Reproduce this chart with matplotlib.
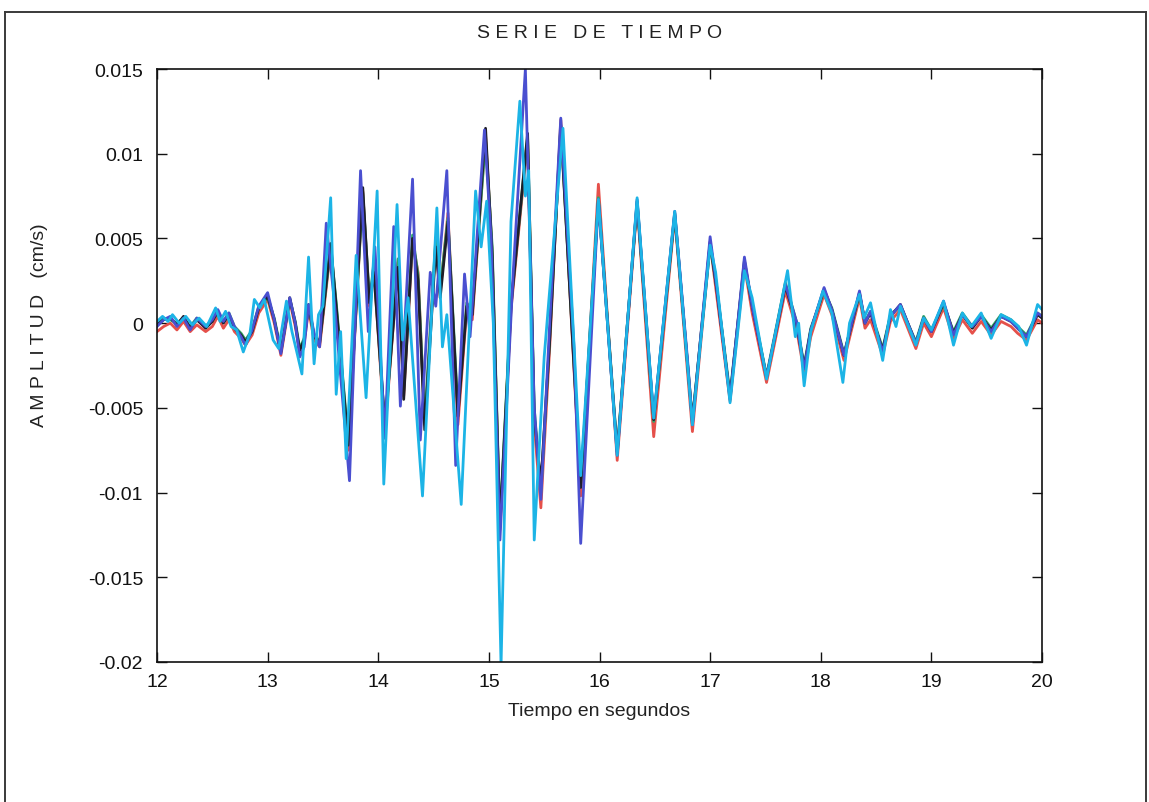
import matplotlib

matplotlib.use('Agg')
import matplotlib.pyplot as plt
from matplotlib.lines import Line2D

plt.rcParams['font.family'] = ['Liberation Sans', 'DejaVu Sans']
plt.rcParams['axes.unicode_minus'] = False

# black, red and green traces share the same sample times
t_main = [12.00, 12.06, 12.12, 12.18, 12.24, 12.30, 12.36, 12.44, 12.50, 12.55,
          12.60, 12.65, 12.70, 12.76, 12.80, 12.86, 12.92, 13.00, 13.06, 13.12,
          13.20, 13.25, 13.29, 13.33, 13.37, 13.42, 13.47, 13.57, 13.62, 13.73,
          13.86, 13.92, 13.96, 14.06, 14.18, 14.23, 14.31, 14.36, 14.42, 14.52,
          14.56, 14.63, 14.72, 14.80, 14.85, 14.97, 15.03, 15.10, 15.20, 15.35,
          15.41, 15.47, 15.55, 15.65, 15.83, 15.99, 16.16, 16.34, 16.49, 16.68,
          16.84, 17.00, 17.06, 17.18, 17.31, 17.38, 17.51, 17.68, 17.78, 17.85,
          17.91, 18.03, 18.10, 18.21, 18.35, 18.40, 18.45, 18.56, 18.63, 18.72,
          18.86, 18.93, 19.00, 19.11, 19.20, 19.28, 19.37, 19.45, 19.54, 19.63,
          19.72, 19.78, 19.86, 19.96, 20.00]

amp_black = [-0.0001, 0.0002, 0.0003, -0.0001, 0.0004, -0.0003, 0.0002, -0.0003, 0.0001, 0.0007,
             0.0000, 0.0005, -0.0003, -0.0007, -0.0011, -0.0005, 0.0009, 0.0016, 0.0002, -0.0017,
             0.0015, 0.0000, -0.0016, -0.0010, 0.0011, -0.0008, -0.0012, 0.0047, 0.0010, -0.0072,
             0.0080, 0.0012, 0.0030, -0.0060, 0.0033, -0.0045, 0.0050, 0.0025, -0.0063, 0.0045,
             0.0015, 0.0060, -0.0055, 0.0010, 0.0005, 0.0115, 0.0040, -0.0120, 0.0010, 0.0112,
             -0.0055, -0.0095, -0.0010, 0.0116, -0.0097, 0.0072, -0.0076, 0.0072, -0.0057, 0.0065,
             -0.0058, 0.0048, 0.0020, -0.0044, 0.0037, 0.0010, -0.0032, 0.0022, 0.0000, -0.0026,
             -0.0004, 0.0020, 0.0008, -0.0019, 0.0018, 0.0000, 0.0006, -0.0016, 0.0004, 0.0011,
             -0.0012, 0.0003, -0.0005, 0.0012, -0.0006, 0.0005, -0.0003, 0.0004, -0.0004, 0.0004,
             0.0001, -0.0003, -0.0008, 0.0005, 0.0003]

amp_red = [-0.0005, -0.0002, 0.0000, -0.0004, 0.0001, -0.0005, -0.0001, -0.0005, -0.0002, 0.0004,
           -0.0003, 0.0002, -0.0005, -0.0009, -0.0013, -0.0007, 0.0006, 0.0014, 0.0000, -0.0019,
           0.0013, -0.0002, -0.0017, -0.0012, 0.0008, -0.0010, -0.0014, 0.0044, 0.0008, -0.0075,
           0.0078, 0.0010, 0.0032, -0.0065, 0.0036, -0.0043, 0.0048, 0.0030, -0.0060, 0.0048,
           0.0018, 0.0065, -0.0060, 0.0008, 0.0002, 0.0111, 0.0042, -0.0122, 0.0008, 0.0108,
           -0.0060, -0.0109, -0.0014, 0.0120, -0.0102, 0.0082, -0.0081, 0.0070, -0.0067, 0.0063,
           -0.0064, 0.0047, 0.0016, -0.0046, 0.0034, 0.0006, -0.0035, 0.0019, -0.0003, -0.0029,
           -0.0008, 0.0017, 0.0005, -0.0022, 0.0015, -0.0003, 0.0002, -0.0019, 0.0001, 0.0008,
           -0.0015, 0.0000, -0.0008, 0.0009, -0.0009, 0.0002, -0.0006, 0.0001, -0.0007, 0.0001,
           -0.0002, -0.0006, -0.0010, 0.0002, 0.0000]

amp_green = [0.0000, 0.0003, 0.0002, 0.0000, 0.0003, -0.0002, 0.0003, -0.0002, 0.0002, 0.0006,
             0.0001, 0.0006, -0.0002, -0.0006, -0.0010, -0.0004, 0.0010, 0.0015, 0.0003, -0.0016,
             0.0014, 0.0001, -0.0015, -0.0009, 0.0010, -0.0007, -0.0011, 0.0045, 0.0012, -0.0070,
             0.0077, 0.0014, 0.0034, -0.0062, 0.0038, -0.0040, 0.0052, 0.0028, -0.0058, 0.0050,
             0.0020, 0.0062, -0.0052, 0.0012, 0.0007, 0.0108, 0.0045, -0.0118, 0.0012, 0.0110,
             -0.0050, -0.0100, -0.0008, 0.0117, -0.0095, 0.0074, -0.0075, 0.0071, -0.0058, 0.0064,
             -0.0057, 0.0046, 0.0021, -0.0042, 0.0035, 0.0011, -0.0031, 0.0024, 0.0001, -0.0025,
             -0.0003, 0.0019, 0.0009, -0.0018, 0.0017, 0.0001, 0.0007, -0.0015, 0.0005, 0.0010,
             -0.0011, 0.0004, -0.0004, 0.0011, -0.0005, 0.0006, -0.0002, 0.0005, -0.0003, 0.0005,
             0.0002, -0.0002, -0.0007, 0.0006, 0.0004]

t_blue = [12.00, 12.06, 12.12, 12.18, 12.24, 12.30, 12.36, 12.44, 12.50, 12.55,
          12.60, 12.65, 12.70, 12.76, 12.80, 12.86, 12.92, 13.00, 13.06, 13.12,
          13.20, 13.25, 13.29, 13.33, 13.37, 13.42, 13.47, 13.53, 13.60, 13.74,
          13.84, 13.91, 13.97, 14.06, 14.14, 14.20, 14.31, 14.38, 14.47, 14.52,
          14.62, 14.70, 14.78, 14.83, 14.96, 15.02, 15.10, 15.22, 15.33, 15.41,
          15.47, 15.55, 15.65, 15.77, 15.83, 15.99, 16.16, 16.34, 16.49, 16.68,
          16.80, 16.84, 17.00, 17.06, 17.18, 17.31, 17.38, 17.51, 17.68, 17.78,
          17.85, 17.91, 18.03, 18.10, 18.21, 18.35, 18.40, 18.45, 18.56, 18.63,
          18.72, 18.86, 18.93, 19.00, 19.11, 19.20, 19.28, 19.37, 19.45, 19.54,
          19.63, 19.72, 19.78, 19.86, 19.96, 20.00]

amp_blue = [-0.0002, 0.0002, 0.0004, -0.0002, 0.0003, -0.0004, 0.0003, -0.0002, 0.0002, 0.0008,
            0.0001, 0.0006, -0.0002, -0.0008, -0.0013, -0.0004, 0.0010, 0.0018, 0.0002, -0.0018,
            0.0015, 0.0000, -0.0020, -0.0014, 0.0011, -0.0006, -0.0014, 0.0059, 0.0015, -0.0093,
            0.0090, -0.0005, 0.0045, -0.0068, 0.0057, -0.0049, 0.0085, -0.0069, 0.0030, 0.0010,
            0.0090, -0.0084, 0.0029, -0.0008, 0.0114, 0.0050, -0.0128, 0.0030, 0.0150, -0.0050,
            -0.0104, 0.0000, 0.0121, -0.0015, -0.0130, 0.0073, -0.0078, 0.0073, -0.0056, 0.0066,
            -0.0025, -0.0060, 0.0051, 0.0021, -0.0045, 0.0039, 0.0010, -0.0032, 0.0023, 0.0001,
            -0.0027, -0.0004, 0.0021, 0.0008, -0.0019, 0.0019, 0.0000, 0.0007, -0.0017, 0.0004,
            0.0011, -0.0012, 0.0003, -0.0005, 0.0013, -0.0007, 0.0005, -0.0002, 0.0004, -0.0005,
            0.0004, 0.0001, -0.0003, -0.0008, 0.0006, 0.0004]

t_cyan = [12.00, 12.05, 12.10, 12.14, 12.20, 12.26, 12.32, 12.38, 12.45, 12.53,
          12.57, 12.62, 12.67, 12.72, 12.78, 12.84, 12.88, 12.93, 12.97, 13.05,
          13.10, 13.17, 13.22, 13.26, 13.31, 13.37, 13.42, 13.46, 13.50, 13.57,
          13.62, 13.66, 13.71, 13.80, 13.89, 13.99, 14.05, 14.17, 14.22, 14.27,
          14.40, 14.53, 14.58, 14.62, 14.75, 14.88, 14.93, 14.98, 15.04, 15.11,
          15.20, 15.28, 15.33, 15.36, 15.41, 15.50, 15.67, 15.83, 15.99, 16.16,
          16.34, 16.49, 16.68, 16.84, 17.00, 17.05, 17.18, 17.31, 17.38, 17.51,
          17.70, 17.77, 17.80, 17.85, 17.91, 18.02, 18.10, 18.20, 18.26, 18.35,
          18.39, 18.45, 18.56, 18.63, 18.68, 18.72, 18.86, 18.93, 19.00, 19.11,
          19.20, 19.28, 19.36, 19.45, 19.54, 19.63, 19.72, 19.79, 19.86, 19.96,
          20.00]

amp_cyan = [0.0001, 0.0004, 0.0001, 0.0005, 0.0000, 0.0004, -0.0001, 0.0003, -0.0002, 0.0009,
            0.0001, 0.0007, -0.0002, -0.0004, -0.0017, -0.0006, 0.0014, 0.0009, 0.0014, -0.0010,
            -0.0015, 0.0013, -0.0005, -0.0016, -0.0030, 0.0039, -0.0024, 0.0005, 0.0010, 0.0074,
            -0.0042, -0.0005, -0.0080, 0.0040, -0.0044, 0.0078, -0.0095, 0.0070, -0.0010, 0.0015,
            -0.0102, 0.0068, -0.0014, 0.0005, -0.0107, 0.0078, 0.0045, 0.0072, 0.0000, -0.0202,
            0.0060, 0.0131, 0.0075, 0.0090, -0.0128, -0.0020, 0.0115, -0.0090, 0.0073, -0.0078,
            0.0074, -0.0056, 0.0066, -0.0060, 0.0046, 0.0030, -0.0047, 0.0031, 0.0015, -0.0033,
            0.0031, -0.0008, 0.0000, -0.0037, -0.0005, 0.0019, 0.0006, -0.0035, 0.0000, 0.0017,
            0.0003, 0.0012, -0.0022, 0.0008, -0.0002, 0.0010, -0.0013, 0.0003, -0.0004, 0.0013,
            -0.0013, 0.0006, -0.0002, 0.0006, -0.0009, 0.0005, 0.0002, -0.0002, -0.0013, 0.0011,
            0.0008]

x_ticks = [12, 13, 14, 15, 16, 17, 18, 19, 20]
y_ticks = [0.015, 0.01, 0.005, 0, -0.005, -0.01, -0.015, -0.02]
y_tick_labels = ['0.015', '0.01', '0.005', '0', '-0.005', '-0.01', '-0.015', '-0.02']

W, H = 1149, 803
AX_L, AX_R, AX_T, AX_B = 157, 1042, 70, 663
fig = plt.figure(figsize=(W / 100, H / 100), dpi=100)
fig.patch.set_facecolor('white')

# frame around the whole printed figure
frame_kw = dict(color='#3a3a3a', lw=1.4, transform=fig.transFigure)
fig.add_artist(Line2D([5 / W, 5 / W], [0, 1 - 13 / H], **frame_kw))
fig.add_artist(Line2D([5 / W, 1146 / W], [1 - 13 / H, 1 - 13 / H], **frame_kw))
fig.add_artist(Line2D([1146 / W, 1146 / W], [0, 1 - 13 / H], **frame_kw))

ax = fig.add_axes([AX_L / W, 1 - AX_B / H, (AX_R - AX_L) / W, (AX_B - AX_T) / H])

lw = 2.0
ax.plot(t_main, amp_red, color='#e5504a', lw=lw)
ax.plot(t_main, amp_green, color='#2fa86a', lw=lw)
ax.plot(t_main, amp_black, color='#1e1e28', lw=lw)
ax.plot(t_blue, amp_blue, color='#4a4fd0', lw=lw)
ax.plot(t_cyan, amp_cyan, color='#1cb4e6', lw=lw)

ax.set_xlim(12, 20)
ax.set_ylim(-0.02, 0.015)
ax.set_xticks(x_ticks)
ax.set_xticklabels([str(v) for v in x_ticks])
ax.set_yticks(y_ticks)
ax.set_yticklabels(y_tick_labels)

ax.tick_params(direction='in', length=7, width=1, top=True, right=True,
               labelsize=14, colors='#111111')
ax.tick_params(axis='x', pad=8)
ax.tick_params(axis='y', pad=10)
for spine in ax.spines.values():
    spine.set_linewidth(1.2)
    spine.set_color('#111111')

cx = (AX_L + AX_R) / 2 / W
fig.text(cx, 1 - 33 / H, 'S E R I E   D E   T I E M P O', fontsize=14,
         ha='center', va='center', color='#222222')
fig.text(cx, 1 - 712 / H, 'Tiempo en segundos', fontsize=14,
         ha='center', va='center', color='#222222')
fig.text(40 / W, 1 - 325 / H, 'A M P L I T U D   (cm/s)', fontsize=14,
         rotation=90, ha='center', va='center', color='#222222')

fig.savefig('out.png', dpi=100, facecolor='white')
